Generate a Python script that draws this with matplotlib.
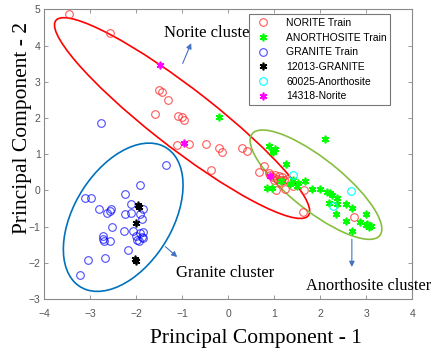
import matplotlib
matplotlib.use("Agg")
import matplotlib.pyplot as plt
from matplotlib.patches import Ellipse
import numpy as np

# 学習データ（読み取り値）
norite_x = [-3.46, -2.57, -1.50, -1.44, -1.30, -1.58, -1.08, -1.01, -0.95, -1.12, -0.86, -0.48,
            -0.19, -0.13, 0.30, 0.41, -0.37, 0.77, 0.68, 0.89, 0.92, 0.98, 1.02, 1.06, 1.10, 1.14,
            1.18, 1.22, 1.28, 1.32, 1.00, 1.12, 1.04, 1.24, 1.42, 1.64, 1.62, 2.73]
norite_y = [4.88, 4.34, 2.78, 2.71, 2.50, 2.12, 2.07, 2.04, 1.95, 1.25, 1.27, 1.29,
            1.17, 1.06, 1.18, 1.09, 0.56, 0.67, 0.52, 0.49, 0.42, 0.38, 0.44, 0.33, 0.40, 0.30,
            0.36, 0.28, 0.32, 0.25, 0.28, 0.22, 0.01, 0.05, 0.12, 0.01, -0.60, -0.73]

anor_x = [-0.19, 2.11, 0.89, 0.98, 1.03, 0.97, 1.26, 0.84, 0.95, 1.35, 1.49, 1.53, 1.67, 1.82,
          2.00, 2.14, 2.22, 2.25, 2.36, 2.20, 2.36, 2.34, 2.56, 2.69, 2.57, 3.00, 2.87, 3.00,
          3.06, 3.02, 3.10, 2.69, 1.15, 1.40]
anor_y = [2.04, 1.42, 1.23, 1.10, 1.14, 1.05, 0.74, 0.07, 0.07, 0.17, 0.12, 0.21, 0.27, 0.04,
          0.04, -0.03, -0.08, -0.12, -0.22, -0.34, -0.37, -0.65, -0.38, -0.48, -0.83, -0.66, -0.88, -0.95,
          -1.00, -0.92, -0.97, -1.13, 0.25, 0.28]

granite_x = [-1.35, -2.76, -1.91, -2.24, -3.12, -2.97, -2.12, -2.80, -2.55, -2.57, -2.64, -2.25,
             -2.11, -1.84, -1.91, -1.88, -2.52, -2.27, -2.06, -1.91, -1.86, -2.00, -1.88, -1.98,
             -1.94, -1.85, -2.71, -2.72, -2.57, -2.69, -2.17, -3.04, -2.67, -3.22]
granite_y = [0.70, 1.86, 0.16, -0.10, -0.21, -0.21, -0.37, -0.52, -0.52, -0.58, -0.62, -0.66,
             -0.62, -0.51, -0.64, -0.80, -1.02, -1.11, -1.11, -1.17, -1.15, -1.27, -1.28, -1.36,
             -1.41, -1.32, -1.25, -1.34, -1.39, -1.39, -1.65, -1.91, -1.87, -2.34]

# テストサンプル
s12013_x = [-1.96, -1.93, -2.00, -2.03, -2.00]
s12013_y = [-0.40, -0.47, -0.90, -1.88, -1.95]
s60025_x = [1.41, 2.29, 2.67]
s60025_y = [0.44, -0.42, -0.01]
s14318_x = [-1.48, -0.95, 0.91]
s14318_y = [3.47, 1.30, 0.40]

# クラスタ楕円 (中心, 幅, 高さ, 角度)
ell_centers = [(-1.0, 2.0), (-2.28, -0.74), (1.91, 0.16)]
ell_widths = [7.7, 4.31, 3.96]
ell_heights = [1.5, 2.23, 1.28]
ell_angles = [-45.0, 68.7, -46.9]
ell_colors = ['#ff0000', '#0072BD', '#86bf3f']

fig = plt.figure(figsize=(4.32, 3.51), dpi=100)
ax = fig.add_axes([0.102, 0.148, 0.852, 0.825])

for c, w, h, a, col in zip(ell_centers, ell_widths, ell_heights, ell_angles, ell_colors):
    ax.add_patch(Ellipse(c, w, h, angle=a, fill=False, edgecolor=col, linewidth=1.2))

ms = 5.5
ax.plot(norite_x, norite_y, 'o', mfc='none', mec='#ff3030', mew=0.8, ms=ms, label='NORITE Train', alpha=0.8)
ax.plot(anor_x, anor_y, marker=(6, 2, 0), ls='none', color='#00ff00', mew=1.2, ms=ms, label='ANORTHOSITE Train')
ax.plot(granite_x, granite_y, 'o', mfc='none', mec='#0000ff', mew=0.8, ms=ms, label='GRANITE Train', alpha=0.7)
ax.plot(s12013_x, s12013_y, marker=(6, 2, 0), ls='none', color='k', mew=1.2, ms=ms, label='12013-GRANITE')
ax.plot(s60025_x, s60025_y, 'o', mfc='none', mec='#00ffff', mew=0.8, ms=ms, label='60025-Anorthosite')
ax.plot(s14318_x, s14318_y, marker=(6, 2, 0), ls='none', color='#ff00ff', mew=1.2, ms=ms, label='14318-Norite')

# 注釈
arrow_kw = dict(arrowstyle='-|>', color='#4472C4', lw=0.8, mutation_scale=8)
ax.annotate('', xy=(-0.78, 4.14), xytext=(-1.01, 3.44), arrowprops=arrow_kw)
ax.annotate('', xy=(-1.06, -1.89), xytext=(-1.41, -1.50), arrowprops=arrow_kw)
ax.annotate('', xy=(2.69, -2.19), xytext=(2.69, -1.27), arrowprops=arrow_kw)
serif = ['Liberation Serif', 'DejaVu Serif']
ax.text(-1.39, 4.35, 'Norite cluster', family=serif, fontsize=12, va='center', ha='left')
ax.text(-1.14, -2.27, 'Granite cluster', family=serif, fontsize=12, va='center', ha='left')
ax.text(1.70, -2.65, 'Anorthosite cluster', family=serif, fontsize=11.8, va='center', ha='left', clip_on=False)

ax.set_xlim(-4, 4)
ax.set_ylim(-3, 5)
ax.set_xticks(range(-4, 5))
ax.set_yticks(range(-3, 6))
ax.tick_params(direction='in', top=True, right=True, length=3, width=0.6,
               color='#888888', labelcolor='#555555', labelsize=7.5)
ax.tick_params(axis='x', pad=7)
ax.tick_params(axis='y', pad=2.5)
for lab in ax.get_xticklabels() + ax.get_yticklabels():
    lab.set_family(['Liberation Sans', 'DejaVu Sans'])
for sp in ax.spines.values():
    sp.set_color('#8a8a8a')
    sp.set_linewidth(0.8)

ax.set_xlabel('Principal Component - 1', family=serif, fontsize=15.5)
ax.set_ylabel('Principal Component - 2', family=serif, fontsize=15.5)
ax.xaxis.set_label_coords(0.576, -0.105)
ax.yaxis.set_label_coords(-0.034, 0.592)

leg = ax.legend(loc='upper left', bbox_to_anchor=(0.557, 0.983), borderaxespad=0,
                prop={'family': ['Liberation Sans', 'DejaVu Sans'], 'size': 7.5},
                fancybox=False, framealpha=1, edgecolor='#777777', labelspacing=0.45,
                handletextpad=1.2, borderpad=0.35)
leg.get_frame().set_linewidth(0.8)

fig.savefig('out.png', dpi=100)
